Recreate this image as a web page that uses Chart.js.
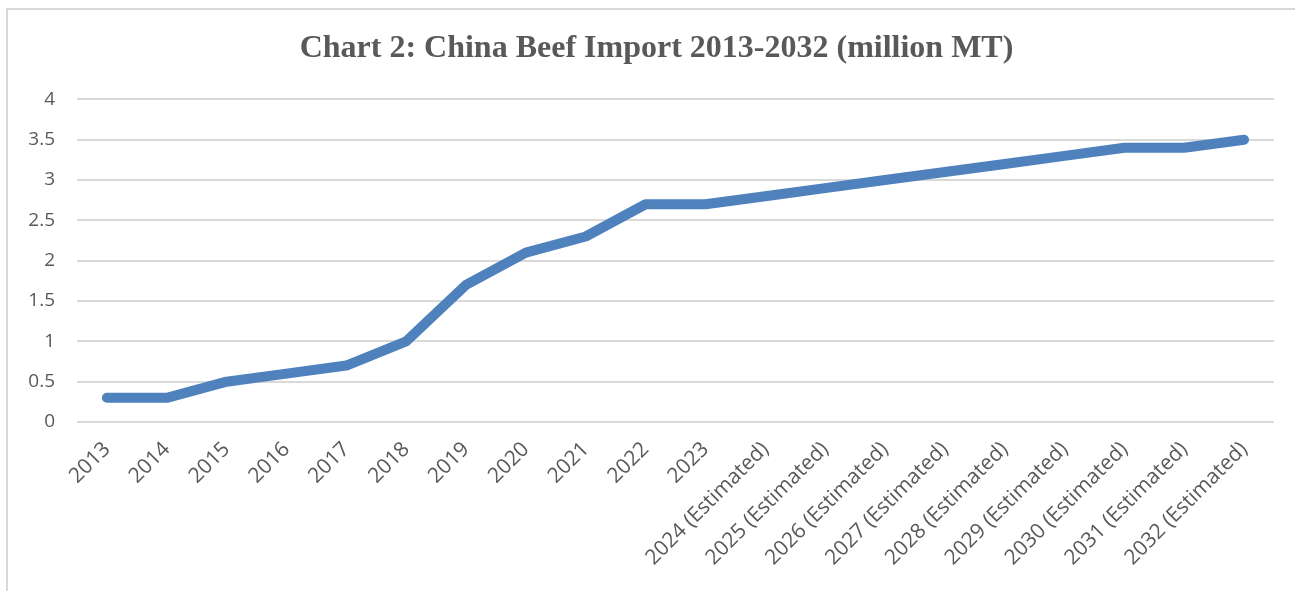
<!DOCTYPE html>
<html>
<head>
<meta charset="utf-8">
<script src="https://cdn.jsdelivr.net/npm/chart.js@4.4.1/dist/chart.umd.min.js"></script>
<style>
    html, body { margin: 0; padding: 0; background: #fff; overflow: hidden; }
    #moldura { position: absolute; left: 6px; top: 8px; width: 1400px; height: 700px; border-left: 2px solid #d9d9d9; border-top: 2px solid #d9d9d9; }
    #caixa { position: absolute; left: 0; top: 0; width: 1295px; height: 591px; }
</style>
</head>
<body>
<div id="moldura"></div>
<div id="caixa"><canvas id="canvasChart" width="1295" height="591"></canvas></div>
<script>
const ANOS = [
    '2013', '2014', '2015', '2016', '2017', '2018', '2019', '2020', '2021', '2022', '2023',
    '2024 (Estimated)', '2025 (Estimated)', '2026 (Estimated)', '2027 (Estimated)',
    '2028 (Estimated)', '2029 (Estimated)', '2030 (Estimated)', '2031 (Estimated)',
    '2032 (Estimated)'
];

const IMPORTACAO = [0.3, 0.3, 0.5, 0.6, 0.7, 1.0, 1.7, 2.1, 2.3, 2.7, 2.7, 2.8, 2.9, 3.0, 3.1, 3.2, 3.3, 3.4, 3.4, 3.5];

const TITULO = 'Chart 2: China Beef Import 2013-2032 (million MT)';

const CORES = {
    linha: '#4f81bd',
    grade: '#d9d9d9',
    texto: '#595959'
};

const grafico = () => {
    try {
        let ctx = document.querySelector('#canvasChart');
        let myChart = new Chart(ctx, {
            type: 'line',
            data: {
                labels: ANOS,
                datasets: [
                    {
                        label: 'China Beef Import',
                        data: IMPORTACAO,
                        borderColor: CORES.linha,
                        backgroundColor: CORES.linha,
                        borderWidth: 10,
                        borderCapStyle: 'round',
                        borderJoinStyle: 'round',
                        pointRadius: 0,
                        tension: 0
                    }
                ]
            },
            options: {
                responsive: false,
                animation: false,
                layout: {
                    // deixa o título centrado dentro da moldura
                    padding: { left: 18, right: 0, top: 0, bottom: 0 }
                },
                plugins: {
                    legend: { display: false },
                    tooltip: { enabled: false },
                    title: {
                        display: true,
                        text: TITULO,
                        color: CORES.texto,
                        font: { family: '"Liberation Serif", "Times New Roman", serif', size: 32, weight: 'bold', lineHeight: 1.2 },
                        padding: { top: 30, bottom: 31 }
                    }
                },
                scales: {
                    x: {
                        offset: true,
                        grid: { display: false, drawTicks: false },
                        border: { display: false },
                        ticks: {
                            color: CORES.texto,
                            font: { family: '"Open Sans", sans-serif', size: 21 },
                            minRotation: 45,
                            maxRotation: 45,
                            autoSkip: false,
                            padding: 15
                        },
                        afterFit: (escala) => { escala.height = 169; }
                    },
                    y: {
                        min: 0,
                        max: 4,
                        grid: { color: CORES.grade, lineWidth: 2, drawTicks: false },
                        border: { display: false },
                        ticks: {
                            stepSize: 0.5,
                            color: CORES.texto,
                            font: { family: '"Open Sans", sans-serif', size: 19 },
                            padding: 22,
                            callback: (valor) => String(valor)
                        },
                        afterFit: (escala) => { escala.width = 59; }
                    },
                    // eixo vazio só para a margem da direita
                    margem: {
                        type: 'linear',
                        position: 'right',
                        grid: { display: false, drawTicks: false },
                        border: { display: false },
                        ticks: { display: false },
                        afterFit: (escala) => { escala.width = 21; }
                    }
                }
            }
        });
    }
    catch (exception) {
        console.error('Erro ao montar o gráfico: ' + exception);
    }
};

grafico();
</script>
</body>
</html>
